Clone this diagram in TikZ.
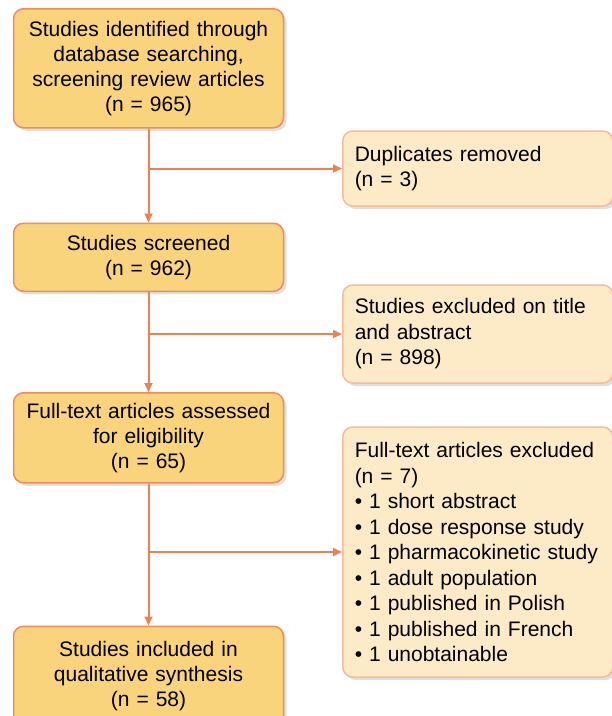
\documentclass[tikz,border=0pt]{standalone}
\usepackage{fontspec}
\setmainfont{Liberation Sans}
\usetikzlibrary{positioning,arrows.meta,shadows}

\definecolor{mainfill}{HTML}{F9D47C}
\definecolor{mainline}{HTML}{EE8C5E}
\definecolor{sidefill}{HTML}{FDEBC8}
\definecolor{sideline}{HTML}{F6BC9A}
\definecolor{flowline}{HTML}{EE8052}

\begin{document}
\begin{tikzpicture}[
    x=1pt, y=1pt,
    >={Triangle[length=9pt,width=8pt]},
    mainbox/.style={
        draw=mainline,
        fill=mainfill,
        rounded corners=10pt,
        align=center,
        line width=1.5pt,
        text width=254pt,
        inner xsep=8pt,
        inner ysep=4pt,
        font=\fontsize{21pt}{25pt}\selectfont,
        drop shadow={shadow xshift=3pt, shadow yshift=-3pt, opacity=0.25}
    },
    sidebox/.style={
        draw=sideline,
        fill=sidefill,
        rounded corners=10pt,
        align=left,
        line width=1.5pt,
        text width=246pt,
        inner xsep=12pt,
        inner ysep=4pt,
        font=\fontsize{21pt}{25.5pt}\selectfont,
        drop shadow={shadow xshift=3pt, shadow yshift=-3pt, opacity=0.25}
    },
    flow/.style={->, draw=flowline, line width=2pt}
]
\useasboundingbox (0,0) rectangle (612,-716);

% Main chain
\node[mainbox, minimum height=119pt, anchor=north] (identified) at (148.5,-8) {
    Studies identified through\\
    database searching,\\
    screening review articles\\
    (n = 965)
};
\node[mainbox, minimum height=68pt, below=94pt of identified] (screened) {
    Studies screened\\
    (n = 962)
};
\node[mainbox, minimum height=90pt, below=100pt of screened] (assessed) {
    Full-text articles assessed\\
    for eligibility\\
    (n = 65)
};
\node[mainbox, minimum height=100pt, below=142pt of assessed] (included) {
    Studies included in\\
    qualitative synthesis\\
    (n = 58)
};

% Exclusion boxes (on right)
\node[sidebox, minimum height=75pt, anchor=west] (duplicates) at (342,-168.5) {
    Duplicates removed\\
    (n = 3)
};
\node[sidebox, minimum height=98pt, anchor=west] (excl_title) at (342,-334) {
    Studies excluded on title\\
    and abstract\\
    (n = 898)
};
\node[sidebox, minimum height=250pt, anchor=west] (excl_full) at (342,-552) {
    Full-text articles excluded\\
    (n = 7)\\
    • 1 short abstract\\
    • 1 dose response study\\
    • 1 pharmacokinetic study\\
    • 1 adult population\\
    • 1 published in Polish\\
    • 1 published in French\\
    • 1 unobtainable
};

% Connections Vertical
\draw[flow] (identified) -- (screened);
\draw[flow] (screened) -- (assessed);
\draw[flow] (assessed) -- (included);

% Connections Horizontal
\coordinate (split_dup) at (identified.south |- duplicates.west);
\coordinate (split_title) at (screened.south |- excl_title.west);
\coordinate (split_full) at (assessed.south |- excl_full.west);
\draw[flow] (split_dup) -- (duplicates);
\draw[flow] (split_title) -- (excl_title);
\draw[flow] (split_full) -- (excl_full);

\end{tikzpicture}
\end{document}
